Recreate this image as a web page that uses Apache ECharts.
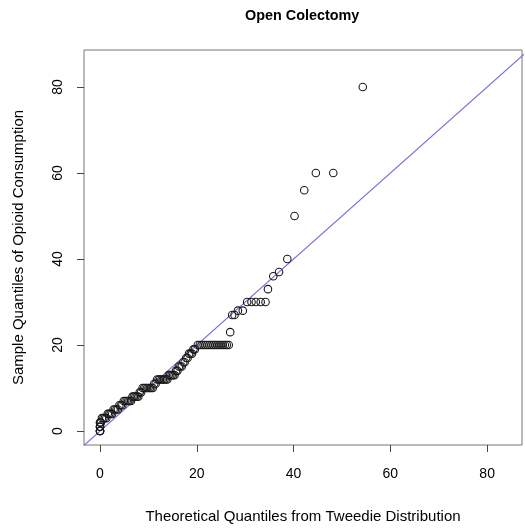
<!DOCTYPE html>
<html>
<head>
<meta charset="utf-8">
<script src="https://cdn.jsdelivr.net/npm/echarts@6/dist/echarts.min.js"></script>
<style>
html,body{margin:0;padding:0;background:#fff;}
#c{width:525px;height:529px;}
</style>
</head>
<body>
<div id="c"></div>
<script>
// Theoretical quantiles (Tweedie) and matching sorted sample quantiles
var theoretical = [
  0, 0, 0, 0, 0, 0, 0, 0, 0, 0.2,
  0.4, 0.7, 1.0, 1.3, 1.6, 1.9, 2.2, 2.5, 2.8, 3.1, 3.4, 3.7,
  4.0, 4.3, 4.6, 4.9, 5.2, 5.5, 5.8, 6.1, 6.4,
  6.7, 7.0, 7.3, 7.6, 7.9, 8.2, 8.5,
  8.8, 9.1, 9.4, 9.7, 10.0, 10.3, 10.6, 10.9, 11.2, 11.5,
  11.8, 12.1, 12.4, 12.7, 13.0, 13.3, 13.6, 13.9,
  14.2, 14.5, 14.8, 15.1, 15.4, 15.7, 16.0, 16.3, 16.6, 16.9,
  17.2, 17.5, 17.8, 18.1, 18.4, 18.7, 19.0, 19.3, 19.6,
  20.2, 20.6, 21.0, 21.4, 21.8, 22.2, 22.6, 23.0, 23.4, 23.8, 24.2, 24.6, 25.0, 25.4, 25.8, 26.2, 26.6,
  26.9, 27.3, 27.8, 28.5, 29.5,
  30.4, 31.3, 32.2, 33.2, 34.2, 34.7, 35.8, 37.0, 38.7,
  40.2, 42.2, 44.6, 48.2, 54.3
];
var sample = [
  0, 0, 0, 0, 1, 1, 1, 2, 2, 2,
  3, 3, 3, 3, 4, 4, 4, 4, 5, 5, 5, 5,
  6, 6, 6, 7, 7, 7, 7, 7, 7,
  8, 8, 8, 8, 8, 9, 9,
  10, 10, 10, 10, 10, 10, 10, 10, 11, 11,
  12, 12, 12, 12, 12, 12, 12, 12,
  13, 13, 13, 13, 13, 14, 14, 15, 15, 15,
  16, 16, 17, 17, 18, 18, 18, 19, 19,
  20, 20, 20, 20, 20, 20, 20, 20, 20, 20, 20, 20, 20, 20, 20, 20, 20,
  23, 27, 27, 28, 28,
  30, 30, 30, 30, 30, 33, 36, 37, 40,
  50, 56, 60, 60, 80
];
var xTicks = [0, 20, 40, 60, 80];
var yTicks = [0, 20, 40, 60, 80];
var refLine = [[-10, -10], [100, 100]];

var pts = theoretical.map(function (t, i) { return [t, sample[i]]; });

var chart = echarts.init(document.getElementById('c'));
var font = '"Liberation Sans", Arial, Helvetica, sans-serif';
chart.setOption({
  animation: false,
  backgroundColor: '#ffffff',
  title: {
    text: 'Open Colectomy',
    left: 240, top: 4,
    textStyle: { fontFamily: font, fontSize: 14.4, fontWeight: 'bold', color: '#000' }
  },
  grid: {
    left: 84, top: 50, width: 438, height: 397,
    show: true, borderColor: '#777', borderWidth: 1, backgroundColor: 'transparent'
  },
  xAxis: {
    type: 'value', min: -3.31, max: 87.2,
    name: 'Theoretical Quantiles from Tweedie Distribution',
    nameLocation: 'middle', nameGap: 64,
    nameTextStyle: { fontFamily: font, fontSize: 15, color: '#000' },
    axisLine: { show: false, onZero: false },
    axisTick: { show: true, inside: false, length: 7, customValues: xTicks, lineStyle: { color: '#444' } },
    axisLabel: { customValues: xTicks, margin: 22, fontFamily: font, fontSize: 14, color: '#000' },
    splitLine: { show: false }
  },
  yAxis: {
    type: 'value', min: -3.24, max: 88.6,
    name: 'Sample Quantiles of Opioid Consumption',
    nameLocation: 'middle', nameGap: 58, nameRotate: 90,
    nameTextStyle: { fontFamily: font, fontSize: 15, color: '#000' },
    axisLine: { show: false, onZero: false },
    axisTick: { show: true, inside: false, length: 7, customValues: yTicks, lineStyle: { color: '#444' } },
    axisLabel: { customValues: yTicks, rotate: 90, margin: 19, fontFamily: font, fontSize: 14, color: '#000' },
    splitLine: { show: false }
  },
  series: [
    {
      type: 'line', data: refLine, symbol: 'none', clip: true,
      lineStyle: { color: '#6f6fe0', width: 1.2 }, z: 1
    },
    {
      type: 'scatter', data: pts, symbol: 'circle', symbolSize: 7.5,
      itemStyle: { color: 'rgba(0,0,0,0)', borderColor: '#1a1a1a', borderWidth: 1.1, opacity: 1 },
      emphasis: { disabled: true }, z: 2
    }
  ]
});
</script>
</body>
</html>
